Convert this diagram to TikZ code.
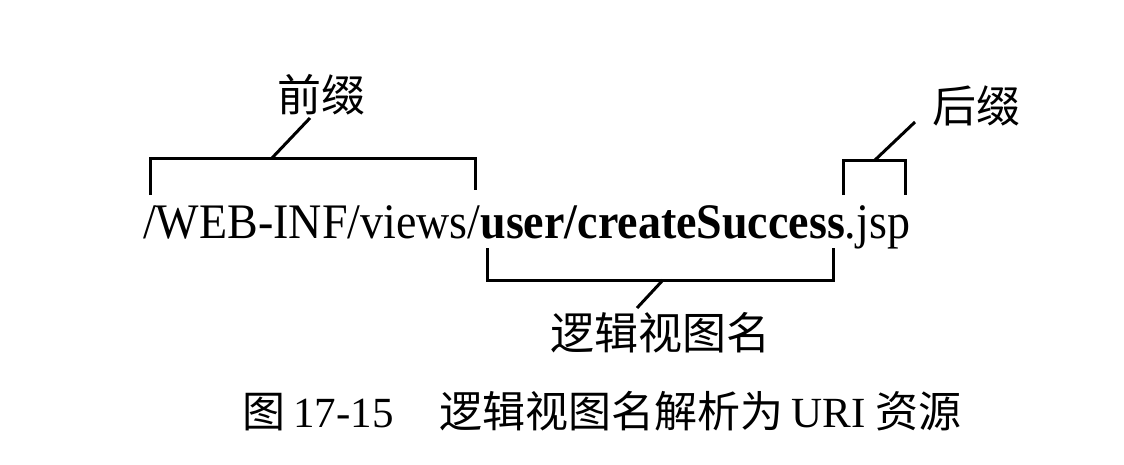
\documentclass[tikz,border=0pt]{standalone}
\usepackage{fontspec}
\setmainfont{Liberation Serif}
\newfontfamily\cjk{Noto Sans CJK SC}
\begin{document}
\begin{tikzpicture}[x=1pt,y=-1pt,
  brk/.style={line width=3pt,line join=miter},
  lbl/.style={font=\cjk\fontsize{44}{44}\selectfont,inner sep=0pt},
  mainurl/.style={font=\fontsize{46}{46}\selectfont,inner sep=0pt,anchor=base west}]
\useasboundingbox (0,0) rectangle (1124,464);
\fill[white] (0,0) rectangle (1124,464);
\node[mainurl] (url) at (143,238) {\scalebox{1}[1.08]{/WEB-INF/views/\textbf{user/createSuccess}.jsp}};
% prefix bracket
\coordinate (pl) at (150,195);
\coordinate (pr) at (475,190);
\coordinate (pm) at (272,158);
\node[lbl] (pre) at (321,95) {前缀};
\draw[brk] (pl) |- (pm) -| (pr);
\draw[brk] (pm) -- (310,118) coordinate (pt);
% suffix bracket
\coordinate (sl) at (843,195);
\coordinate (sr) at (905,195);
\coordinate (sm) at (875,160);
\node[lbl] (suf) at (976,106) {后缀};
\draw[brk] (sl) |- (sm) -| (sr);
\draw[brk] (sm) -- (915,122);
% logical view name bracket
\coordinate (ll) at (487,248);
\coordinate (lr) at (833,248);
\coordinate (lm) at (663,280);
\node[lbl] (lv) at (660,333) {逻辑视图名};
\draw[brk] (ll) |- (lm) -| (lr);
\draw[brk] (lm) -- (637,308);
% caption
\node[inner sep=0pt,font=\fontsize{43}{43}\selectfont] (cap) at (602,411) {{\cjk 图}\hspace{8pt}17-15\hspace{46pt}{\cjk 逻辑视图名解析为}\hspace{8pt}URI\hspace{10pt}{\cjk 资源}};
\end{tikzpicture}
\end{document}
